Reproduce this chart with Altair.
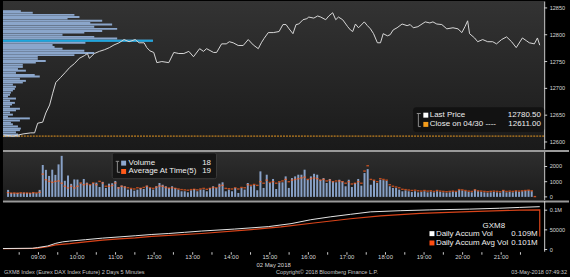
import altair as alt
import pandas as pd

FONT = "Liberation Sans"
W = 545
H_TOP, H_MID, H_BOT = 150, 51, 52
AX = "#cfcfcf"
TXT = "#d8d8d8"

# ---------------- data ----------------
price_hours = [8.11, 8.34, 8.60, 8.80, 8.90, 8.98, 9.11, 9.19, 9.29, 9.37, 9.45, 9.57, 9.70, 9.81, 9.93,
               10.06, 10.19, 10.27, 10.32, 10.45, 10.58, 10.71, 10.84, 10.96, 11.09, 11.22, 11.35, 11.51,
               11.61, 11.74, 11.81, 11.89, 11.99, 12.07, 12.20, 12.38, 12.51, 12.64, 12.77, 12.90, 13.02,
               13.18, 13.28, 13.36, 13.54, 13.62, 13.75, 13.87, 13.95, 14.05, 14.18, 14.31, 14.44, 14.57,
               14.70, 14.78, 14.85, 14.96, 15.09, 15.24, 15.34, 15.42, 15.50, 15.60, 15.68, 15.75, 15.86,
               15.96, 16.01, 16.14, 16.24, 16.32, 16.45, 16.53, 16.63, 16.71, 16.78, 16.89, 17.02, 17.09,
               17.15, 17.22, 17.30, 17.45, 17.53, 17.61, 17.69, 17.79, 17.87, 17.94, 18.05, 18.12, 18.20,
               18.30, 18.43, 18.56, 18.64, 18.72, 18.84, 19.03, 19.15, 19.23, 19.33, 19.46, 19.59, 19.75,
               19.88, 19.98, 20.06, 20.13, 20.18, 20.31, 20.39, 20.52, 20.65, 20.78, 20.88, 21.01, 21.14,
               21.27, 21.39, 21.55, 21.65, 21.73, 21.86, 21.94, 22.00]
price_values = [12613, 12611, 12615, 12617, 12617, 12635, 12637, 12654, 12669, 12691, 12711, 12720, 12730,
                12739, 12746, 12756, 12761, 12765, 12756, 12765, 12769, 12772, 12776, 12781, 12785, 12791,
                12787, 12791, 12785, 12785, 12776, 12770, 12767, 12748, 12750, 12748, 12767, 12765, 12765,
                12769, 12759, 12774, 12769, 12774, 12767, 12767, 12783, 12783, 12787, 12785, 12780, 12780,
                12791, 12781, 12774, 12785, 12793, 12804, 12804, 12806, 12819, 12819, 12811, 12802, 12819,
                12820, 12828, 12830, 12833, 12831, 12835, 12833, 12828, 12835, 12841, 12828, 12833, 12828,
                12815, 12809, 12806, 12820, 12813, 12824, 12817, 12811, 12802, 12785, 12785, 12802, 12798,
                12800, 12809, 12813, 12820, 12817, 12819, 12813, 12815, 12824, 12822, 12824, 12820, 12819,
                12811, 12813, 12811, 12804, 12815, 12826, 12802, 12794, 12787, 12791, 12787, 12787, 12783,
                12791, 12796, 12787, 12776, 12794, 12789, 12785, 12783, 12794, 12780.5]
last_price = 12780.50
prev_close = 12611.00

profile_prices = [12844, 12841, 12837, 12833, 12830, 12826, 12822, 12819, 12815, 12811, 12807, 12804, 12800,
                  12796, 12793, 12789, 12785, 12781, 12777, 12774, 12770, 12766, 12762, 12759, 12755, 12751,
                  12748, 12744, 12740, 12736, 12733, 12729, 12725, 12722, 12718, 12714, 12711, 12707, 12703,
                  12699, 12696, 12692, 12688, 12685, 12681, 12677, 12673, 12670, 12666, 12662, 12659, 12655,
                  12651, 12647, 12644, 12640, 12636, 12633, 12629, 12625, 12622, 12618, 12614, 12611]
profile_volumes = [99, 165, 396, 424, 358, 550, 484, 605, 506, 633, 550, 451, 330, 506, 633, 831, 457, 275,
                   286, 330, 451, 506, 396, 193, 193, 237, 182, 110, 110, 83, 127, 72, 176, 204, 94, 127, 110,
                   55, 72, 66, 55, 44, 39, 28, 72, 39, 66, 50, 39, 94, 72, 39, 55, 28, 149, 94, 44, 55, 83,
                   99, 94, 72, 83, 94]
poc_price = 12789
poc_volume = 831

bar_volume = [460, 260, 240, 260, 240, 280, 260, 260, 280, 240, 460,
              2100, 1780, 1380, 1790, 1450, 2140, 2700, 1060, 1410, 860, 1150, 1140, 890, 1180, 940, 790,
              915, 940, 650, 990, 590, 870, 900, 1050, 650, 750,
              700, 480, 520, 410, 480, 590, 520, 740, 590, 480, 700, 915, 800, 700, 590, 700, 590, 480, 370,
              370, 300, 430, 520, 370, 480, 480, 370, 590, 700, 590, 870, 960, 370, 480, 370, 590, 260, 590,
              480, 915, 700, 800, 430,
              1680, 590, 1460, 915, 1180, 520, 960, 960, 1350, 590, 1240, 1350, 1460, 1460, 1790, 1130, 1350,
              1520, 1460, 1130, 1240, 915, 1180, 1020, 960, 1130, 1020, 700, 1130, 650, 915, 1180, 740, 1570,
              1830, 800, 1090, 915,
              1130, 1100, 1050, 700, 590, 590, 480, 370, 430, 370, 320, 370, 300, 320, 370, 300, 350, 300,
              370, 330, 300, 280, 300, 350, 330, 450, 420, 380, 330, 300, 480, 370, 330, 300, 280, 300, 330,
              300, 280, 420, 300, 330, 300, 370, 330, 370, 400, 420, 370, 18]
bar_avg5 = [280, 250, 260, 240, 270, 250, 260, 240, 280, 260, 300,
            1500, 1130, 1020, 960, 1020, 1050, 900, 700, 590, 700, 590, 700, 915, 800, 850, 800, 915, 800,
            1020, 915, 700, 700, 750, 915, 590, 700,
            650, 600, 550, 520, 600, 560, 620, 700, 600, 560, 640, 720, 700, 620, 580, 600, 560, 520, 480,
            460, 440, 480, 500, 460, 520, 560, 500, 560, 620, 600, 720, 760, 560, 540, 520, 600, 520, 620,
            600, 800, 760, 820, 760,
            1000, 900, 1100, 950, 1000, 900, 1000, 1050, 1150, 1000, 1100, 1150, 1200, 1250, 1300, 1150,
            1200, 1250, 1200, 1100, 1150, 1050, 1100, 1000, 1050, 1050, 1000, 900, 1000, 850, 900, 1000, 900,
            1700, 2050, 1150, 1100, 1000,
            1200, 1150, 1100, 800, 700, 650, 600, 500, 480, 450, 420, 440, 400, 380, 420, 380, 400, 360, 420,
            380, 360, 340, 360, 380, 360, 480, 460, 420, 380, 360, 460, 400, 380, 360, 340, 360, 380, 360,
            340, 420, 360, 380, 360, 400, 380, 400, 420, 440, 400, 19]

accum_hours = [8.08, 8.85, 8.98, 9.24, 9.45, 9.63, 9.81, 10.22, 10.66, 11.09, 11.51, 11.94, 12.38, 12.79,
               13.23, 14.08, 14.96, 15.55, 16.06, 16.58, 17.09, 17.61, 18.38, 19.15, 20.18, 20.96, 21.47, 22.00]
accum_vol = [2500, 3250, 5000, 9000, 15750, 19500, 21500, 25000, 29000, 32000, 35000, 38250, 40750, 43750,
             47000, 52000, 58250, 65750, 75750, 83250, 89500, 95750, 98750, 100750, 102750, 105000, 107000,
             109000]
accum_avg_hours = [8.08, 8.85, 8.98, 9.24, 9.45, 9.81, 10.22, 10.66, 11.09, 11.51, 11.94, 13.23, 14.52,
                   15.29, 16.14, 17.09, 17.87, 18.90, 20.18, 21.47, 22.00, 22.00]
accum_avg = [2500, 2750, 3750, 7000, 12000, 15000, 19500, 23750, 27000, 29500, 33250, 40750, 50750, 57500,
             67500, 78250, 85750, 92000, 96500, 100000, 101000, 33000]
accum_vol_label = "0.109M"
accum_avg_label = "0.101M"

# axis ticks and tick labels
hour_ticks = [8.5 + 0.5 * k for k in range(27)]
hour_labels = ["09:00", "10:00", "11:00", "12:00", "13:00", "14:00", "15:00", "16:00", "17:00",
               "18:00", "19:00", "20:00", "21:00"]
hour_label_pos = [9, 10, 11, 12, 13, 14, 15, 16, 17, 18, 19, 20, 21]
price_ticks = [12600, 12650, 12700, 12750, 12800, 12850]
price_tick_labels = ["12600", "12650", "12700", "12750", "12800", "12850"]
volume_ticks = [0, 1000, 2000]
volume_tick_labels = ["0", "1000", "2000"]
accum_ticks = [0, 50000, 100000]
accum_tick_labels = ["0", "50000", "0.1M"]
date_title = "02 May 2018"

# ---------------- tables ----------------
price_df = pd.DataFrame({"h": price_hours, "p": price_values})
prof_df = pd.DataFrame({"price": profile_prices, "pv": profile_volumes})
poc_df = pd.DataFrame({"price": [poc_price], "pv": [poc_volume]})
close_df = pd.DataFrame({"close": [prev_close]})
bar_times = pd.date_range("2018-05-02 08:05", periods=len(bar_volume), freq="5min")
bars_df = pd.DataFrame({"h": list(bar_times.hour + bar_times.minute / 60.0),
                        "vol": bar_volume, "avg": bar_avg5})
acc_df = pd.DataFrame({"h": accum_hours, "v": accum_vol})
avg_df = pd.DataFrame({"h": accum_avg_hours, "v": accum_avg, "o": list(range(len(accum_avg)))})
one = pd.DataFrame({"k": [0]})

# ---------------- scales ----------------
xsc = alt.Scale(domain=[8.08, 22.115], nice=False, zero=False)
price_sc = alt.Scale(domain=[12585.2, 12863], nice=False, zero=False)
prof_x = alt.Scale(domain=[0, 3000], nice=False, zero=False)
vol_sc = alt.Scale(domain=[-242, 3092], nice=False, zero=False)
acc_sc = alt.Scale(domain=[-6818, 124495], nice=False, zero=False)

# ---------------- helpers ----------------
def grad_bg(h, c1, c2):
    return alt.Chart(one).mark_rect(
        fill=alt.Gradient(gradient="linear",
                          stops=[alt.GradientStop(color=c1, offset=0), alt.GradientStop(color=c2, offset=1)],
                          x1=0, x2=0, y1=0, y2=1)
    ).encode(x=alt.value(0), x2=alt.value(W), y=alt.value(0), y2=alt.value(h))

def box(x1, x2, y1, y2, fill, stroke=None, r=0):
    kw = dict(fill=fill, cornerRadius=r)
    if stroke:
        kw.update(stroke=stroke, strokeWidth=1)
    return alt.Chart(one).mark_rect(**kw).encode(
        x=alt.value(x1), x2=alt.value(x2), y=alt.value(y1), y2=alt.value(y2))

def seg(x1, x2, y1, y2, color, w=1):
    return alt.Chart(one).mark_rule(color=color, strokeWidth=w).encode(
        x=alt.value(x1), x2=alt.value(x2), y=alt.value(y1), y2=alt.value(y2))

def label(s, x, y, size=8, align="left", color="#eeeeee"):
    return alt.Chart(one).mark_text(text=s, font=FONT, fontSize=size, align=align,
                                    baseline="middle", color=color).encode(x=alt.value(x), y=alt.value(y))

def right_axis(ticks, labels, scale, h):
    df = pd.DataFrame({"v": ticks, "t": labels})
    dom = seg(W + 0.5, W + 0.5, 0.5, h - 0.5, AX)
    tk = alt.Chart(df).mark_rule(color=AX, strokeWidth=1).encode(
        y=alt.Y("v:Q", scale=scale, axis=None), x=alt.value(W), x2=alt.value(W + 3))
    lb = alt.Chart(df).mark_text(align="left", baseline="middle", font=FONT, fontSize=5.6,
                                 color=TXT).encode(
        y=alt.Y("v:Q", scale=scale, axis=None), x=alt.value(W + 5.5), text="t:N")
    return [dom, tk, lb]

# ---------------- top panel: price ----------------
price_line = alt.Chart(price_df).mark_line(color="#d8d8d8", strokeWidth=1).encode(
    x=alt.X("h:Q", scale=xsc, axis=None),
    y=alt.Y("p:Q", scale=price_sc, axis=None))

profile = alt.Chart(prof_df).transform_calculate(
    z="0", lo="datum.price - 1.8", hi="datum.price + 1.8"
).mark_rect(color="#8ba6cb").encode(
    x=alt.X("z:Q", scale=prof_x, axis=None), x2="pv:Q",
    y=alt.Y("lo:Q", scale=price_sc, axis=None), y2="hi:Q")

poc = alt.Chart(poc_df).transform_calculate(z="0").mark_rule(color="#1ba6de", strokeWidth=2).encode(
    x=alt.X("z:Q", scale=prof_x, axis=None), x2="pv:Q",
    y=alt.Y("price:Q", scale=price_sc, axis=None))

close_line = alt.Chart(close_df).mark_rule(color="#ec9b22", strokeWidth=1, strokeDash=[2, 1]).encode(
    y=alt.Y("close:Q", scale=price_sc, axis=None), x=alt.value(0), x2=alt.value(W))

top = alt.layer(
    grad_bg(H_TOP, "#333333", "#1a1a1a"),
    profile, poc, close_line, price_line,
    *right_axis(price_ticks, price_tick_labels, price_sc, H_TOP),
    box(413, W, 107, 132, "#121212", r=3),
    seg(416.7, 420.7, 113.3, 113.3, "#8c8c8c"),
    seg(418.3, 418.3, 113.3, 126.5, "#8c8c8c"),
    seg(418.3, 420.7, 126.5, 126.5, "#8c8c8c"),
    box(423.3, 428.3, 112.5, 117.5, "#ffffff"),
    box(423.3, 428.3, 121.8, 126.8, "#f39c1c"),
    label("Last Price", 429.8, 115),
    label(f"{last_price:.2f}", 541.7, 115, align="right"),
    label("Close on 04/30 ----", 429.8, 124.3),
    label(f"{prev_close:.2f}", 541.7, 124.3, align="right"),
).resolve_scale(x="independent").properties(width=W, height=H_TOP)

# ---------------- middle panel: volume ----------------
vbars = alt.Chart(bars_df).mark_bar(color="#88a1c7", width=2).encode(
    x=alt.X("h:Q", scale=xsc, axis=None),
    y=alt.Y("vol:Q", scale=vol_sc, axis=None))
vavg = alt.Chart(bars_df).mark_tick(orient="horizontal", color="#ff5f1f", size=2.6, thickness=1.4).encode(
    x=alt.X("h:Q", scale=xsc, axis=None),
    y=alt.Y("avg:Q", scale=vol_sc, axis=None))

mid = alt.layer(
    grad_bg(H_MID, "#2f2f2f", "#1b1b1b"),
    vbars, vavg,
    *right_axis(volume_ticks, volume_tick_labels, vol_sc, H_MID),
    seg(0, 570, 1, 1, "#9a9a9a", 2),
    box(110, 215, 3, 29, "#151515", stroke="#3a3a3a", r=2),
    seg(113.5, 117, 11.5, 11.5, "#8c8c8c"),
    seg(115.2, 115.2, 11.5, 22.5, "#8c8c8c"),
    seg(115.2, 118, 22.5, 22.5, "#8c8c8c"),
    box(119, 124, 10.8, 15.8, "#8ea8cf"),
    box(119, 124, 19.2, 24.2, "#ff5a1a"),
    label("Volume", 126.5, 13.3),
    label(str(bar_volume[-1]), 209.5, 13.3, align="right"),
    label("Average At Time(5)", 126.5, 21.7),
    label(str(bar_avg5[-1]), 209.5, 21.7, align="right"),
).properties(width=W, height=H_MID)

# ---------------- bottom panel: accumulated volume ----------------
acc_line = alt.Chart(acc_df).mark_line(color="#e6e6e6", strokeWidth=1).encode(
    x=alt.X("h:Q", scale=xsc, axis=None),
    y=alt.Y("v:Q", scale=acc_sc, axis=None))
avg_line = alt.Chart(avg_df).mark_line(color="#d9441a", strokeWidth=1.2).encode(
    x=alt.X("h:Q", scale=xsc, axis=None),
    y=alt.Y("v:Q", scale=acc_sc, axis=None),
    order="o:Q")

xt_df = pd.DataFrame({"h": hour_ticks})
xl_df = pd.DataFrame({"h": hour_label_pos, "t": hour_labels})
x_ticks = alt.Chart(xt_df).mark_rule(color=AX, strokeWidth=1).encode(
    x=alt.X("h:Q", scale=xsc, axis=None), y=alt.value(H_BOT), y2=alt.value(H_BOT + 2.5))
x_labels = alt.Chart(xl_df).mark_text(font=FONT, fontSize=6, color=TXT, baseline="middle").encode(
    x=alt.X("h:Q", scale=xsc, axis=None), y=alt.value(H_BOT + 5.2), text="t:N")

bot = alt.layer(
    seg(0, 570, 1, 1, "#9a9a9a", 2),
    avg_line, acc_line,
    *right_axis(accum_ticks, accum_tick_labels, acc_sc, H_BOT),
    x_ticks, x_labels,
    label(date_title, W / 2, H_BOT + 12.5, size=6, align="center", color=TXT),
    label("GXM8", 483, 25.7),
    box(429.5, 434.5, 30.8, 35.8, "#ffffff"),
    box(429.5, 434.5, 40.2, 45.2, "#ff4d12"),
    label("Daily Accum Vol", 436, 33.3),
    label(accum_vol_label, 538.5, 33.3, align="right"),
    label("Daily Accum Avg Vol", 436, 42.7),
    label(accum_avg_label, 538.5, 42.7, align="right"),
    label("GXM8 Index (Eurex DAX Index Future) 2 Days 5 Minutes", 1, 72, size=5.6, color="#c8c8c8"),
    label("Copyright\u00a9 2018 Bloomberg Finance L.P.", 275, 72, size=5.6, color="#c8c8c8"),
    label("03-May-2018 07:49:32", 568, 72, size=5.6, align="right", color="#c8c8c8"),
).properties(width=W, height=H_BOT)

chart = alt.vconcat(top, mid, bot, spacing=0, bounds="flush").properties(
    padding=0, background="#000000"
).configure_view(stroke=None)

chart.save("out.html", embed_options={"renderer": "svg", "actions": False})
